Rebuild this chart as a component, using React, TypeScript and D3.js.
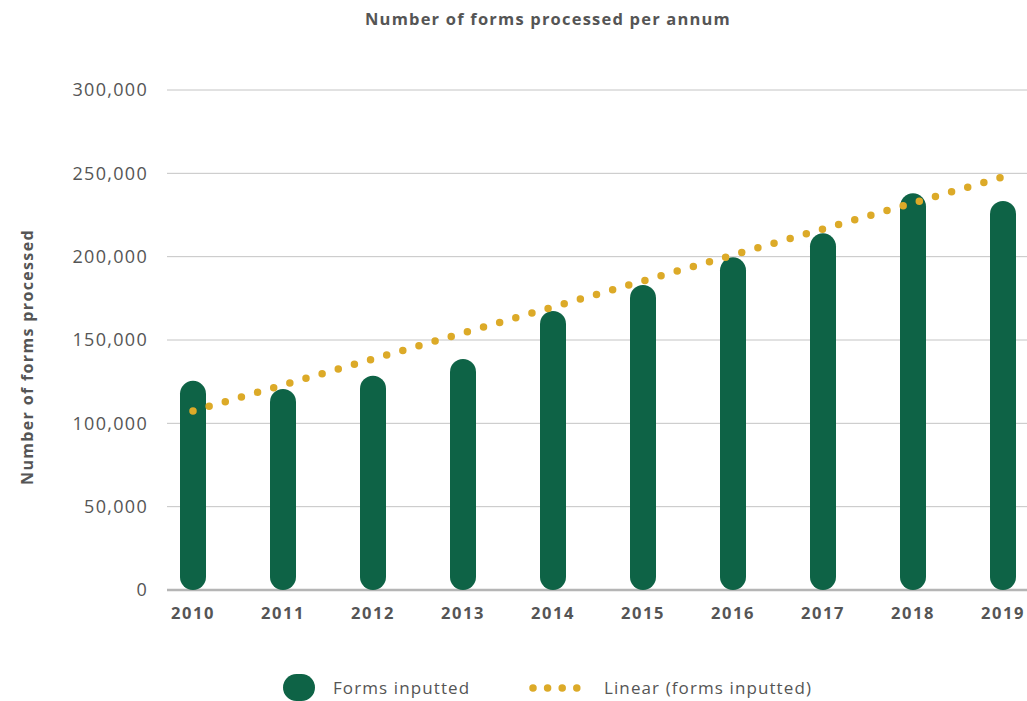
import React from "react";
import * as d3 from "d3";

const years = ["2010","2011","2012","2013","2014","2015","2016","2017","2018","2019"];
const formsInputted = [125500, 120600, 128600, 138600, 167400, 183000, 199600, 214000, 238000, 233400];
const trendEnds = [107400, 247800];
const yTicks = [0, 50000, 100000, 150000, 200000, 250000, 300000];

const W = 1027, H = 701;
const GREEN = "#0e6346";
const GOLD = "#dcaa28";
const TEXT = "#555555";
const FONT = "'Open Sans', sans-serif";

export default function App() {
  const x = d3.scaleBand<string>().domain(years).range([148, 1048]).paddingInner(0);
  const y = d3.scaleLinear().domain([0, 300000]).range([590, 90]);
  const barW = 26;
  const cx = (yr: string) => (x(yr) as number) + x.bandwidth() / 2;
  const fmt = d3.format(",");
  const trendLine = d3.line<number>()
    .x((_, i) => cx(years[i === 0 ? 0 : years.length - 1]))
    .y((d) => y(d));

  return (
    <svg width={W} height={H} style={{ position: "absolute", left: 0, top: 0, background: "#fff" }}>
      <text x={548} y={25} textAnchor="middle" fontFamily={FONT} fontWeight={700} fontSize={16.5} fill={TEXT} letterSpacing={1.2}>
        Number of forms processed per annum
      </text>
      {yTicks.map((t) => (
        <g key={t}>
          <line x1={167} x2={1027} y1={y(t)} y2={y(t)} stroke={t === 0 ? "#b5b5b5" : "#c4c4c4"} strokeWidth={t === 0 ? 2.5 : 1} />
          <text x={148} y={y(t)} dy="0.35em" textAnchor="end" fontFamily={FONT} fontSize={18} fill={TEXT} letterSpacing={1.3}>
            {fmt(t)}
          </text>
        </g>
      ))}
      <text transform="translate(33,357) rotate(-90)" textAnchor="middle" fontFamily={FONT} fontWeight={700} fontSize={16} fill={TEXT} letterSpacing={1.35}>
        Number of forms processed
      </text>
      {formsInputted.map((v, i) => (
        <rect key={years[i]} x={cx(years[i]) - barW / 2} y={y(v)} width={barW} height={y(0) - y(v)} rx={barW / 2} ry={barW / 2} fill={GREEN} />
      ))}
      <path d={trendLine(trendEnds) as string} fill="none" stroke={GOLD} strokeWidth={7.5} strokeLinecap="round" strokeDasharray="0 16.8" />
      {years.map((yr) => (
        <text key={yr} x={cx(yr)} y={619} textAnchor="middle" fontFamily={FONT} fontWeight={700} fontSize={16.5} fill={TEXT} letterSpacing={1.6}>
          {yr}
        </text>
      ))}
      <rect x={283} y={674} width={32} height={27} rx={13.5} fill={GREEN} />
      <text x={333} y={694} fontFamily={FONT} fontSize={17} fill={TEXT} letterSpacing={1.1}>Forms inputted</text>
      <line x1={533} x2={577} y1={688} y2={688} stroke={GOLD} strokeWidth={7.5} strokeLinecap="round" strokeDasharray="0 14.6" />
      <text x={604} y={694} fontFamily={FONT} fontSize={17} fill={TEXT} letterSpacing={1.1}>Linear (forms inputted)</text>
    </svg>
  );
}
